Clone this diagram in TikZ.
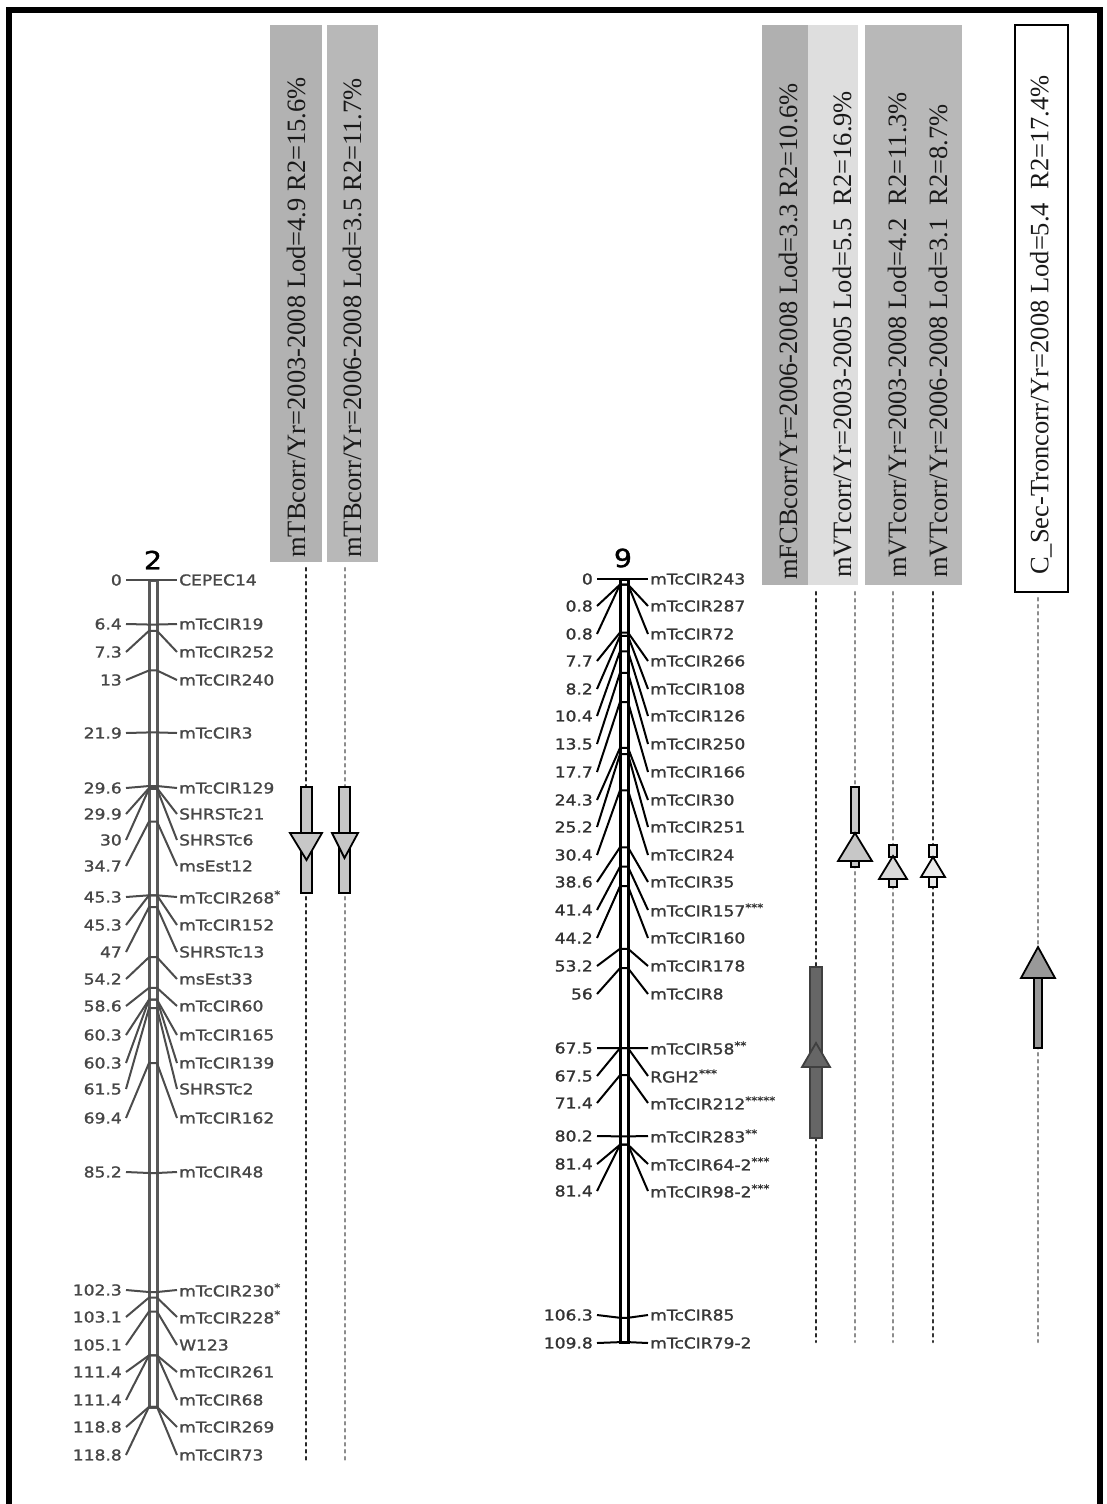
\documentclass[tikz,border=0pt]{standalone}
\usepackage{fontspec}
\setmainfont{Liberation Serif}
\newfontfamily\mapfont[FakeStretch=1.14,FakeBold=1.4]{DejaVu Sans}
\begin{document}
\begin{tikzpicture}[x=1pt,y=-1pt,
  mkr/.style={font=\mapfont\fontsize{15}{17}\selectfont,inner sep=0pt,anchor=west},
  cmlbl/.style={font=\mapfont\fontsize{15}{17}\selectfont,inner sep=0pt,anchor=east},
  chrname/.style={font=\mapfont\fontsize{25}{27}\selectfont,inner sep=0pt},
  hdr/.style={font=\fontsize{26.5}{29}\selectfont,rotate=90,anchor=west,inner sep=0pt,text=black!90},
  qtlline/.style={line width=2.5pt,dash pattern=on 2.5pt off 4.5pt,line cap=round},
  qtl/.style={draw=black,line width=1.8pt,fill=black!22,line join=miter}]
\useasboundingbox (0,0) rectangle (1106,1504);
\draw[line width=6pt] (9,1504) -- (9,10) -- (1100,10) -- (1100,1504);

\fill[black!30] (270,25) rectangle (322,562);
\fill[black!28] (327,25) rectangle (378,562);
\fill[black!31] (762,25) rectangle (808,585);
\fill[black!13] (808,25) rectangle (858,585);
\fill[black!28] (865,25) rectangle (962,585);
\draw[line width=1.5pt] (1015,25) rectangle (1068,592);

\node[hdr] (h1) at (296,558) {mTBcorr/Yr=2003-2008 Lod=4.9 R2=15.6\%};
\node[hdr] (h2) at (352,558) {mTBcorr/Yr=2006-2008 Lod=3.5 R2=11.7\%};
\node[hdr] (h3) at (788,580) {mFCBcorr/Yr=2006-2008 Lod=3.3 R2=10.6\%};
\node[hdr] (h4) at (842,578) {mVTcorr/Yr=2003-2005 Lod=5.5 \ R2=16.9\%};
\node[hdr] (h5) at (897,578) {mVTcorr/Yr=2003-2008 Lod=4.2 \ R2=11.3\%};
\node[hdr] (h6) at (938,578) {mVTcorr/Yr=2006-2008 Lod=3.1 \ R2=8.7\%};
\node[hdr] (h7) at (1041,575) {C\_Sec-Troncorr/Yr=2008 Lod=5.4 \ R2=17.4\%};

\coordinate (q1a) at (306,568); \coordinate (q1b) at (306,1462);
\coordinate (q2a) at (345,568); \coordinate (q2b) at (345,1462);
\coordinate (q3a) at (816,592); \coordinate (q3b) at (816,1342);
\coordinate (q4a) at (855,592); \coordinate (q4b) at (855,1342);
\coordinate (q5a) at (893,592); \coordinate (q5b) at (893,1342);
\coordinate (q6a) at (933,592); \coordinate (q6b) at (933,1342);
\coordinate (q7a) at (1038,598); \coordinate (q7b) at (1038,1342);
\draw[qtlline,black!85] (q1a) -- (q1b);
\draw[qtlline,black!45] (q2a) -- (q2b);
\draw[qtlline,black!85] (q3a) -- (q3b);
\draw[qtlline,black!45] (q4a) -- (q4b);
\draw[qtlline,black!45] (q5a) -- (q5b);
\draw[qtlline,black!80] (q6a) -- (q6b);
\draw[qtlline,black!45] (q7a) -- (q7b);

\draw[qtl] (301,787) rectangle (312,893);
\draw[qtl] (290,833) -- (322,833) -- (306.5,860) -- cycle;
\draw[qtl] (339,787) rectangle (350,893);
\draw[qtl] (332,833) -- (358,833) -- (344.5,858) -- cycle;
\draw[qtl,fill=black!60,draw=black!75] (810,967) rectangle (822,1138);
\draw[qtl,fill=black!60,draw=black!75] (802,1067) -- (830,1067) -- (816,1043) -- cycle;
\draw[qtl] (851,787) rectangle (859,833);
\draw[qtl] (851,861) rectangle (859,867);
\draw[qtl] (838,861) -- (872,861) -- (855,833) -- cycle;
\draw[qtl,fill=black!15] (889,845) rectangle (897,857);
\draw[qtl,fill=black!15] (889,879) rectangle (897,887);
\draw[qtl,fill=black!15] (879,879) -- (907,879) -- (893,856) -- cycle;
\draw[qtl,fill=black!8] (929,845) rectangle (937,857);
\draw[qtl,fill=black!8] (929,877) rectangle (937,887);
\draw[qtl,fill=black!8] (921,877) -- (945,877) -- (933,857) -- cycle;
\draw[qtl,fill=black!40] (1034,978) rectangle (1042,1048);
\draw[qtl,fill=black!40] (1021,978) -- (1055,978) -- (1038,947) -- cycle;

\node[chrname] (c2) at (153,560) {2};
\draw[black!65,line width=3pt,fill=white] (149,580) rectangle (157,1407);
\foreach \p/\r/\m [count=\i] in {0/580/CEPEC14, 6.4/624/mTcCIR19, 7.3/652/mTcCIR252,
  13/680/mTcCIR240, 21.9/733/mTcCIR3, 29.6/788/mTcCIR129, 29.9/814/SHRSTc21,
  30/840/SHRSTc6, 34.7/866/msEst12, 45.3/897/{mTcCIR268\textsuperscript{*}},
  45.3/925/mTcCIR152, 47/952/SHRSTc13, 54.2/979/msEst33, 58.6/1006/mTcCIR60,
  60.3/1035/mTcCIR165, 60.3/1063/mTcCIR139, 61.5/1089/SHRSTc2, 69.4/1118/mTcCIR162,
  85.2/1172/mTcCIR48, 102.3/1290/{mTcCIR230\textsuperscript{*}},
  103.1/1317/{mTcCIR228\textsuperscript{*}}, 105.1/1345/W123, 111.4/1372/mTcCIR261,
  111.4/1400/mTcCIR68, 118.8/1427/mTcCIR269, 118.8/1455/mTcCIR73}
{
  \node[cmlbl,text=black!72] (c2n\i) at (122,\r) {\p};
  \node[mkr,text=black!72] (c2m\i) at (179,\r) {\m};
  \coordinate (c2l\i) at (149,{580+6.96*\p});
  \coordinate (c2r\i) at (157,{580+6.96*\p});
  \draw[black!70,line width=2pt] ([xshift=4pt]c2n\i.east) -- (c2l\i) -- (c2r\i) -- ([xshift=-2pt]c2m\i.west);
}

\node[chrname] (c9) at (623,558) {9};
\draw[black,line width=3pt,fill=white] (620,579) rectangle (628,1342);
\foreach \p/\r/\m [count=\i] in {0/579/mTcCIR243, 0.8/606/mTcCIR287, 0.8/634/mTcCIR72,
  7.7/661/mTcCIR266, 8.2/689/mTcCIR108, 10.4/716/mTcCIR126, 13.5/744/mTcCIR250,
  17.7/772/mTcCIR166, 24.3/800/mTcCIR30, 25.2/827/mTcCIR251, 30.4/855/mTcCIR24,
  38.6/882/mTcCIR35, 41.4/910/{mTcCIR157\textsuperscript{***}}, 44.2/938/mTcCIR160,
  53.2/966/mTcCIR178, 56/994/mTcCIR8, 67.5/1048/{mTcCIR58\textsuperscript{**}},
  67.5/1076/{RGH2\textsuperscript{***}}, 71.4/1103/{mTcCIR212\textsuperscript{*****}},
  80.2/1136/{mTcCIR283\textsuperscript{**}}, 81.4/1164/{mTcCIR64-2\textsuperscript{***}},
  81.4/1191/{mTcCIR98-2\textsuperscript{***}}, 106.3/1315/mTcCIR85, 109.8/1343/mTcCIR79-2}
{
  \node[cmlbl,text=black!80] (c9n\i) at (593,\r) {\p};
  \node[mkr,text=black!78] (c9m\i) at (650,\r) {\m};
  \coordinate (c9l\i) at (620,{579+6.95*\p});
  \coordinate (c9r\i) at (628,{579+6.95*\p});
  \draw[black,line width=2pt] ([xshift=4pt]c9n\i.east) -- (c9l\i) -- (c9r\i) -- ([xshift=-2pt]c9m\i.west);
}
\end{tikzpicture}
\end{document}
